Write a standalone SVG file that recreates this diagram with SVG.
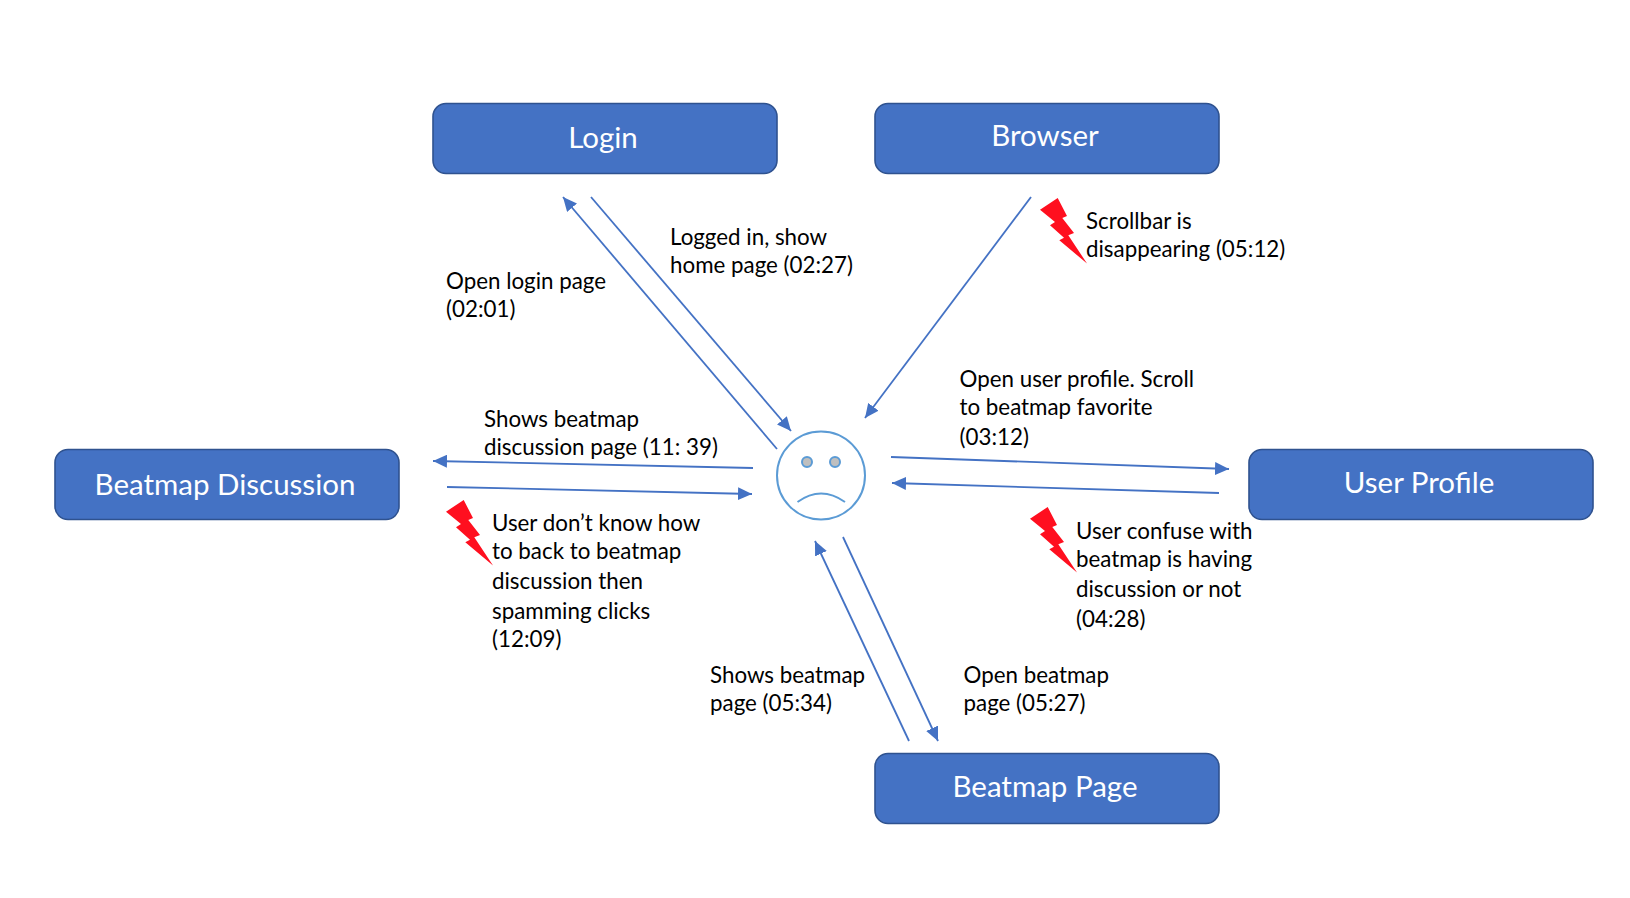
<svg xmlns="http://www.w3.org/2000/svg" width="1630" height="898" viewBox="0 0 1630 898">
<style>
text{font-family:"Lato","Liberation Sans",sans-serif}
.n{fill:#4472c4;stroke:#2f528f;stroke-width:1.6}
.t{fill:#fff;font-size:29.500px;text-anchor:middle}
.l{fill:#000;font-size:22.350px}
.c{stroke:#4472c4;stroke-width:1.800;fill:none;marker-end:url(#a)}
.f{stroke:#5b9bd5;stroke-width:2;fill:none}
.e{stroke:#5b9bd5;stroke-width:2;fill:#bfbfbf}
</style>
<defs>
<marker id="a" markerUnits="userSpaceOnUse" markerWidth="15" markerHeight="13" refX="14" refY="6.500" orient="auto"><path d="M0 0L14 6.500L0 13Z" fill="#4472c4"/></marker>
<polygon id="b" points="0,11.700 17.700,0 27,18 22.300,20 34,35 28.300,37.300 47,65.500 19.300,42.300 24,39.700 10,27.300 15,24" fill="#ff0f1f"/>
</defs>
<rect width="1630" height="898" fill="#fff"/>
<g id="connectors">
<line class="c" x1="777" y1="449" x2="563" y2="197"/>
<line class="c" x1="591" y1="197" x2="791" y2="431"/>
<line class="c" x1="1031" y1="197" x2="865" y2="418"/>
<line class="c" x1="891" y1="457" x2="1229" y2="469"/>
<line class="c" x1="1219" y1="493" x2="892" y2="483"/>
<line class="c" x1="753" y1="468" x2="433" y2="461"/>
<line class="c" x1="447" y1="487" x2="752" y2="494"/>
<line class="c" x1="909" y1="741" x2="815" y2="541"/>
<line class="c" x1="843" y1="537" x2="938" y2="741"/>
</g>
<g id="login"><rect class="n" x="433" y="103.500" width="344" height="70" rx="13"/><text class="t" x="603" y="148">Login</text></g>
<g id="browser"><rect class="n" x="875" y="103.500" width="344" height="70" rx="13"/><text class="t" x="1045" y="146">Browser</text></g>
<g id="user-profile"><rect class="n" x="1249" y="449.500" width="344" height="70" rx="13"/><text class="t" x="1419" y="492.500">User Profile</text></g>
<g id="beatmap-discussion"><rect class="n" x="55" y="449.500" width="344" height="70" rx="13"/><text class="t" x="225" y="494.500">Beatmap Discussion</text></g>
<g id="beatmap-page"><rect class="n" x="875" y="753.500" width="344" height="70" rx="13"/><text class="t" x="1045" y="797">Beatmap Page</text></g>
<g id="face">
<circle class="f" cx="821" cy="475.500" r="44"/>
<circle class="e" cx="807" cy="462" r="5"/>
<circle class="e" cx="835" cy="462" r="5"/>
<path class="f" d="M797.500 502Q821 485 845 502"/>
</g>
<g id="bolts">
<use href="#b" x="1040" y="198"/>
<use href="#b" x="446" y="500"/>
<use href="#b" x="1030" y="507"/>
</g>
<g id="labels">
<text class="l" x="670" y="245">Logged in, show</text>
<text class="l" x="670" y="273">home page (02:27)</text>
<text class="l" x="446" y="289">Open login page</text>
<text class="l" x="446" y="317">(02:01)</text>
<text class="l" x="1086" y="229">Scrollbar is</text>
<text class="l" x="1086" y="257">disappearing (05:12)</text>
<text class="l" x="484" y="427">Shows beatmap</text>
<text class="l" x="484" y="455">discussion page (11: 39)</text>
<text class="l" x="492" y="531">User don’t know how</text>
<text class="l" x="492" y="559">to back to beatmap</text>
<text class="l" x="492" y="589">discussion then</text>
<text class="l" x="492" y="619">spamming clicks</text>
<text class="l" x="492" y="647">(12:09)</text>
<text class="l" x="959.500" y="387">Open user profile. Scroll</text>
<text class="l" x="959.500" y="415">to beatmap favorite</text>
<text class="l" x="959.500" y="445">(03:12)</text>
<text class="l" x="1076" y="539">User confuse with</text>
<text class="l" x="1076" y="567">beatmap is having</text>
<text class="l" x="1076" y="597">discussion or not</text>
<text class="l" x="1076" y="627">(04:28)</text>
<text class="l" x="710" y="683">Shows beatmap</text>
<text class="l" x="710" y="711">page (05:34)</text>
<text class="l" x="963.500" y="683">Open beatmap</text>
<text class="l" x="963.500" y="711">page (05:27)</text>
</g>
</svg>
